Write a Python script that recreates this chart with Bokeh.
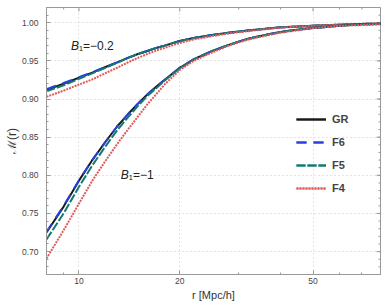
import math
from bokeh.plotting import figure
from bokeh.models import (Range1d, FixedTicker, Legend, LegendItem, Label, PrintfTickFormatter)
from bokeh.embed import file_html
from bokeh.resources import INLINE

# ---- data ----
r = [8, 9, 10, 11, 12, 13, 14, 15, 16, 17, 18, 20, 22, 25, 28, 32, 36, 40, 45, 50, 60, 70, 80]

# B1 = -0.2
gr_a = [0.912, 0.920, 0.928, 0.935, 0.942, 0.948, 0.954, 0.959, 0.963, 0.967, 0.970, 0.976,
        0.980, 0.984, 0.987, 0.990, 0.992, 0.994, 0.995, 0.996, 0.9975, 0.9985, 0.999]
f6_a = [0.913, 0.921, 0.9285, 0.9355, 0.942, 0.948, 0.954, 0.959, 0.963, 0.967, 0.970, 0.976,
        0.980, 0.984, 0.987, 0.990, 0.992, 0.994, 0.995, 0.996, 0.9975, 0.9985, 0.999]
f5_a = [0.910, 0.918, 0.9265, 0.934, 0.941, 0.9475, 0.954, 0.959, 0.963, 0.967, 0.970, 0.976,
        0.980, 0.984, 0.987, 0.990, 0.992, 0.994, 0.995, 0.996, 0.9975, 0.9985, 0.999]
f4_a = [0.903, 0.911, 0.919, 0.926, 0.934, 0.941, 0.948, 0.954, 0.959, 0.9635, 0.967, 0.9735,
        0.978, 0.9825, 0.986, 0.989, 0.9915, 0.9935, 0.995, 0.996, 0.9975, 0.9985, 0.999]

# B1 = -1
gr_b = [0.725, 0.759, 0.793, 0.821, 0.844, 0.864, 0.880, 0.894, 0.906, 0.916, 0.925, 0.941,
        0.952, 0.963, 0.971, 0.979, 0.984, 0.988, 0.991, 0.993, 0.996, 0.998, 0.9985]
f6_b = [0.726, 0.760, 0.7935, 0.821, 0.844, 0.864, 0.880, 0.894, 0.906, 0.916, 0.925, 0.941,
        0.952, 0.963, 0.971, 0.979, 0.984, 0.988, 0.991, 0.993, 0.996, 0.998, 0.9985]
f5_b = [0.716, 0.750, 0.785, 0.814, 0.838, 0.859, 0.876, 0.891, 0.904, 0.914, 0.924, 0.940,
        0.952, 0.963, 0.971, 0.979, 0.984, 0.988, 0.991, 0.993, 0.996, 0.998, 0.9985]
f4_b = [0.691, 0.728, 0.763, 0.794, 0.819, 0.841, 0.860, 0.877, 0.893, 0.906, 0.919, 0.938,
        0.950, 0.961, 0.970, 0.978, 0.983, 0.987, 0.990, 0.993, 0.996, 0.997, 0.998]

x_major = [10, 20, 50]
x_minor = [9, 30, 40, 60, 70]
y_major = [0.70, 0.75, 0.80, 0.85, 0.90, 0.95, 1.00]
y_minor = [round(0.67 + 0.01 * i, 2) for i in range(36)]

series_names = ["GR", "F6", "F5", "F4"]
series_colors = ["#1a1a1a", "#2a3fe0", "#127a72", "#e05a5a"]
series_dash = ["solid", "10 7", "9 2", "2 1"]

FONT = "Liberation Sans"
XMIN, XMAX = 8, 79.5
YMIN, YMAX = 0.67, 1.02
AX = "#999999"

p = figure(width=388, height=306, x_axis_type="log",
           x_range=Range1d(XMIN, XMAX), y_range=Range1d(YMIN, YMAX),
           output_backend="svg", toolbar_location=None,
           min_border_left=46, min_border_right=8, min_border_top=7, min_border_bottom=32)
p.background_fill_color = "white"
p.outline_line_color = AX

# grids
p.xgrid.ticker = FixedTicker(ticks=x_major)
p.ygrid.ticker = FixedTicker(ticks=y_major)
for g in (p.xgrid, p.ygrid):
    g.grid_line_color = "#c8c8c8"
    g.grid_line_dash = "1 3"
    g.grid_line_width = 1

p.xaxis.ticker = FixedTicker(ticks=x_major, minor_ticks=x_minor)
p.xaxis.formatter = PrintfTickFormatter(format="%d")
p.yaxis.ticker = FixedTicker(ticks=y_major, minor_ticks=y_minor)
p.yaxis.formatter = PrintfTickFormatter(format="%.2f")
for ax in (p.xaxis[0], p.yaxis[0]):
    ax.axis_line_color = AX
    ax.major_tick_line_color = AX
    ax.minor_tick_line_color = AX
    ax.major_tick_in = 4
    ax.major_tick_out = 0
    ax.minor_tick_in = 2
    ax.minor_tick_out = 0
    ax.major_label_text_font = FONT
    ax.major_label_text_font_size = "8.5px"
    ax.major_label_text_color = "#444444"
    ax.axis_label_text_font = FONT
    ax.axis_label_text_font_style = "normal"
    ax.axis_label_text_color = "#333333"
p.xaxis.major_label_standoff = 3
p.xaxis.axis_label_standoff = 2
p.xaxis.axis_label = "r [Mpc/h]"
p.xaxis.axis_label_text_font_size = "11px"
p.yaxis.major_label_standoff = 8
p.yaxis.axis_label_standoff = 0
p.yaxis.axis_label = "\u2133(r)"
p.yaxis.axis_label_text_font_size = "12px"

# mirrored inward ticks on the top and right frame edges
p.ray(x=x_major, y=[YMAX] * len(x_major), length=4, length_units="screen",
      angle=-math.pi / 2, line_color=AX, line_width=1)
p.ray(x=x_minor, y=[YMAX] * len(x_minor), length=2, length_units="screen",
      angle=-math.pi / 2, line_color=AX, line_width=1)
p.ray(x=[XMAX] * len(y_major), y=y_major, length=4, length_units="screen",
      angle=math.pi, line_color=AX, line_width=1)
p.ray(x=[XMAX] * len(y_minor), y=y_minor, length=2, length_units="screen",
      angle=math.pi, line_color=AX, line_width=1)

renderers = []
for ys in ([gr_a, f6_a, f5_a, f4_a], [gr_b, f6_b, f5_b, f4_b]):
    rs = []
    for yv, c, d in zip(ys, series_colors, series_dash):
        rs.append(p.line(r, yv, line_color=c, line_width=2, line_dash=d))
    renderers.append(rs)

legend = Legend(items=[LegendItem(label=n, renderers=[renderers[0][i], renderers[1][i]])
                       for i, n in enumerate(series_names)],
                location=(250, 76), padding=0, margin=0, spacing=3,
                glyph_width=30, glyph_height=20, label_height=20, label_standoff=6,
                label_text_font=FONT, label_text_font_size="11px",
                label_text_font_style="bold", label_text_color="#444444",
                background_fill_alpha=0, border_line_alpha=0)
p.add_layout(legend)

ann = [(9.47, 0.9697, "\u2081=\u22120.2"), (13.34, 0.80, "\u2081=\u22121")]
for ax_, ay_, rest in ann:
    p.add_layout(Label(x=ax_, y=ay_, text="B", text_font=FONT, text_font_size="12px",
                       text_font_style="italic", text_baseline="middle", text_color="#222222"))
    p.add_layout(Label(x=ax_, y=ay_, x_offset=8, text=rest, text_font=FONT,
                       text_font_size="12px", text_baseline="middle", text_color="#222222"))

open("out.html", "w").write(file_html(p, INLINE))
